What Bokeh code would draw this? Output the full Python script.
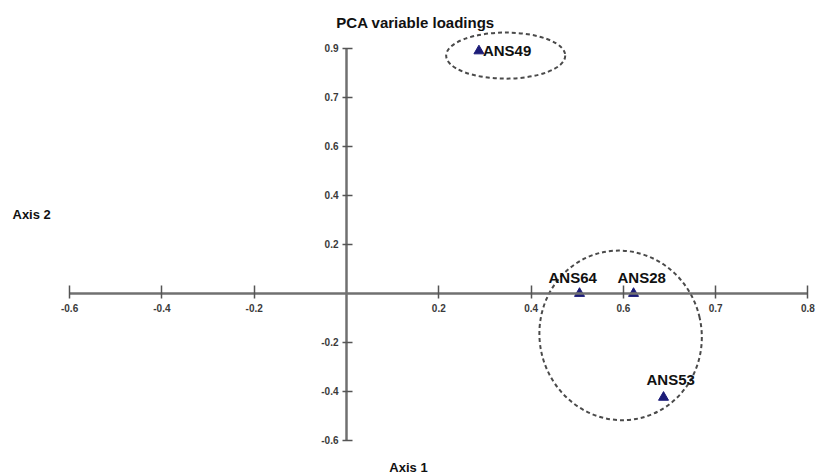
from bokeh.plotting import figure
from bokeh.models import LinearAxis, FixedTicker, Label, ColumnDataSource
from bokeh.embed import file_html
from bokeh.resources import INLINE
from bokeh.core.properties import value

# ---- data ----
variables = ["ANS49", "ANS64", "ANS28", "ANS53"]
axis1 = [0.287, 0.505, 0.622, 0.687]
axis2 = [0.99, 0.0, 0.0, -0.424]

cluster_x = [0.345, 0.594]
cluster_y = [0.971, -0.171]
cluster_w = [0.258, 0.351]
cluster_h = [0.188, 0.694]
cluster_angle = [0.0, 0.237]

x_ticks = [-0.6, -0.4, -0.2, 0.2, 0.4, 0.6, 0.8, 1.0]
x_tick_labels = ["-0.6", "-0.4", "-0.2", "0.2", "0.4", "0.6", "0.7", "0.8"]
y_ticks = [-0.6, -0.4, -0.2, 0.2, 0.4, 0.6, 0.8, 1.0]
y_tick_labels = ["-0.6", "-0.4", "-0.2", "0.2", "0.4", "0.6", "0.7", "0.9"]

FONT = "Liberation Sans"

p = figure(width=815, height=475, output_backend="svg", toolbar_location=None,
           x_range=(-0.7497, 1.0163), y_range=(-0.7429, 1.1959),
           x_axis_location=None, y_axis_location=None,
           min_border_left=0, min_border_right=0, min_border_top=0, min_border_bottom=0)
p.outline_line_color = None
p.xgrid.visible = False
p.ygrid.visible = False
p.background_fill_color = "white"
p.border_fill_color = "white"

def style_axis(ax, ticks, labels, tin, tout):
    ax.ticker = FixedTicker(ticks=ticks)
    ax.major_label_overrides = {t: l for t, l in zip(ticks, labels)}
    ax.fixed_location = 0
    ax.bounds = (-0.6, 1.0)
    ax.axis_line_color = "#707070"
    ax.axis_line_width = 2.5
    ax.major_tick_line_color = "#555555"
    ax.major_tick_line_width = 1.5
    ax.major_tick_in = tin
    ax.major_tick_out = tout
    ax.minor_tick_line_color = None
    ax.major_label_text_font = FONT
    ax.major_label_text_font_size = "10px"
    ax.major_label_text_font_style = "bold"
    ax.major_label_text_color = "#3a3a3a"

xa = LinearAxis()
style_axis(xa, x_ticks, x_tick_labels, 8, 5)
xa.major_label_standoff = 6
p.add_layout(xa, "below")

ya = LinearAxis()
style_axis(ya, y_ticks, y_tick_labels, 6, 4)
ya.major_label_standoff = 4
p.add_layout(ya, "left")

csrc = ColumnDataSource(dict(x=cluster_x, y=cluster_y, w=cluster_w, h=cluster_h,
                             a=cluster_angle))
p.ellipse(x="x", y="y", width="w", height="h", angle="a", source=csrc, fill_color=None,
          line_color="#4a4a4a", line_width=2, line_dash="4 3")

src = ColumnDataSource(dict(x=axis1, y=axis2, name=variables,
                            xo=[4, -31, -16, -17], yo=[0, -16, -16, -18]))
p.scatter(x="x", y="y", source=src, marker="triangle", size=10,
          fill_color="#1c1c78", line_color="#1c1c78")
p.text(x="x", y="y", text="name", source=src, x_offset="xo", y_offset="yo",
       text_font=value(FONT), text_font_size="15px", text_font_style="bold",
       text_color="#111111", text_baseline="middle", text_align="left")

common = dict(x_units="screen", y_units="screen", text_font=FONT,
              text_font_style="bold", text_color="#111111", text_baseline="middle")
p.add_layout(Label(x=415, y=453, text="PCA variable loadings", text_align="center",
                   text_font_size="15px", **common))
p.add_layout(Label(x=12, y=261, text="Axis 2", text_align="left",
                   text_font_size="13px", **common))
p.add_layout(Label(x=408, y=8, text="Axis 1", text_align="center",
                   text_font_size="13px", **common))

open("out.html", "w").write(file_html(p, INLINE))
